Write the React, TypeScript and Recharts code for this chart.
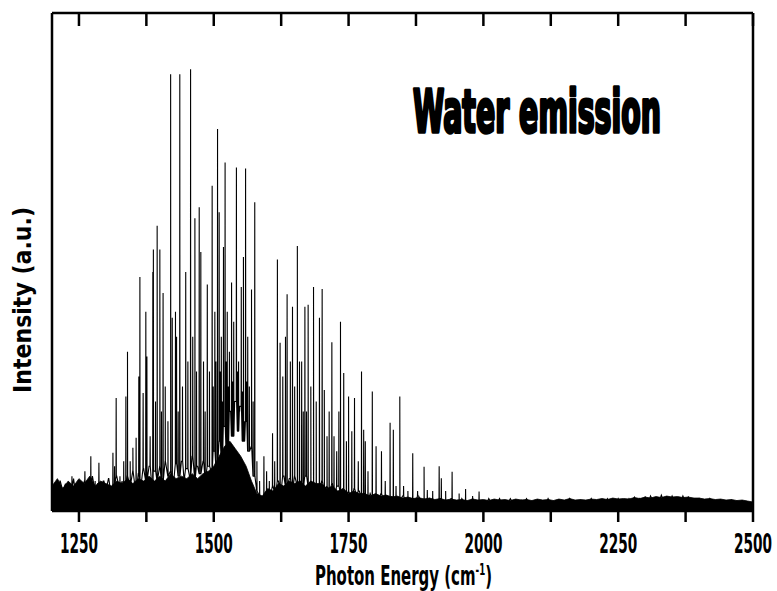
import React from 'react';
import { ComposedChart, Line, Area, XAxis, YAxis } from 'recharts';

// x ticks every 125 cm-1, labels only on multiples of 250
const tickValues = [1250, 1375, 1500, 1625, 1750, 1875, 2000, 2125, 2250, 2375, 2500];

// baseline noise, one value every 5 cm-1 from 1200 to 2500
const baselineStart = 1200;
const baselineStep = 5;
const baseline = [
    3.5, 5, 2, 6, 4, 5.5, 3, 4.5, 6.5, 2.5, 5, 4, 6, 3, 5, 7, 4, 5.5, 3.5, 6, // 1200
    4, 6.5, 3, 5, 7, 4.5, 6, 3.5, 7, 5, 8, 4, 7.5, 5, 8.5, 6, 9, 5, 8, 6, // 1300
    9, 6, 10, 7, 8, 5, 9.5, 7, 10, 6, 8.5, 7, 11, 6, 9, 7.5, 10, 6.5, 9, 8, // 1400
    12, 9, 14, 10, 17, 12, 20, 15, 22, 16, 21, 14, 18, 12, 13, 7, 4, 3, 2.5, 3, // 1500
    4, 3, 5, 3.5, 6, 4, 7, 5, 6.5, 4, 7, 5, 6, 4.5, 7, 5, 6, 4, 5.5, 4, // 1600
    6, 4, 5, 3.5, 5.5, 3, 5, 3.5, 4.5, 3, 4, 2.5, 4.5, 3, 4, 2.5, 3.5, 2, 3.5, 2.5, // 1700
    3, 2, 3.5, 2, 3, 1.5, 3, 2, 2.5, 1.5, 3, 2, 2.5, 1.5, 2.5, 2, 3, 1.5, 2.5, 2, // 1800
    2.5, 1.5, 2, 1.5, 2.5, 1.2, 2, 1.5, 2.5, 1.5, 2, 1.2, 2.5, 1.5, 2, 1.5, 2.5, 1.5, 2, 1.5, // 1900
    2, 1.2, 2.5, 1.5, 2, 1.5, 2.5, 1.2, 2, 1.5, 2.5, 1.5, 2, 1.2, 2.2, 1.5, 2.5, 1.5, 2, 1.2, // 2000
    2.2, 1.5, 2, 1.2, 2.5, 1.5, 2, 1.5, 2.2, 1.2, 2, 1.5, 2.5, 1.2, 2, 1.5, 2.2, 1.5, 2, 1.2, // 2100
    2.5, 1.5, 2, 1.2, 2.2, 1.5, 2.5, 1.5, 2, 1.2, 2.5, 1.5, 2.2, 1.5, 2.5, 1.5, 2.8, 1.5, 2.5, 1.8, // 2200
    2.8, 1.5, 3, 1.8, 2.5, 1.5, 3.2, 1.8, 2.8, 1.5, 3, 1.8, 2.5, 1.5, 3, 1.8, 2.8, 1.5, 2.5, 1.5, // 2300
    2.5, 1.5, 2.2, 1.2, 2.5, 1.5, 2, 1.2, 2.2, 1.5, 2, 1.2, 2.2, 1.2, 2, 1, 2, 1.2, 1.8, 1, // 2400
    1.5,
];

// top of the dark noise floor, one value every 10 cm-1 from 1200 to 2500
const floorStart = 1200;
const floorStep = 10;
const floorTop = [
    5, 6.5, 4.5, 6, 5, 6.5, 5.5, 7, 5, 6, // 1200
    5.5, 5, 6, 5.5, 6.5, 5.5, 6.5, 6, 7, 6, // 1300
    7, 6, 7.5, 6.5, 7, 6.5, 7.5, 6.5, 7.5, 8, // 1400
    9, 11, 13, 14, 12.5, 11, 9, 6, 3.5, 3, // 1500
    4.5, 4, 5.5, 5, 6, 5.5, 6, 5, 6, 5.5, // 1600
    5.5, 4.5, 5, 4, 4.5, 3.5, 4, 3.5, 3.5, 3, // 1700
    3.5, 3, 3.2, 2.8, 3, 2.6, 2.8, 2.5, 2.7, 2.4, // 1800
    2.6, 2.3, 2.5, 2.2, 2.4, 2.2, 2.3, 2.1, 2.4, 2.2, // 1900
    2.3, 2.1, 2.4, 2.2, 2.3, 2.1, 2.4, 2.2, 2.3, 2.1, // 2000
    2.4, 2.2, 2.3, 2.1, 2.4, 2.2, 2.5, 2.2, 2.3, 2.2, // 2100
    2.4, 2.3, 2.5, 2.3, 2.6, 2.4, 2.5, 2.4, 2.7, 2.5, // 2200
    2.8, 2.6, 2.9, 2.7, 3.0, 2.8, 2.9, 2.7, 2.8, 2.6, // 2300
    2.6, 2.4, 2.5, 2.3, 2.4, 2.2, 2.3, 2.1, 2.2, 2.0, // 2400
    1.8,
];

// emission lines: position (cm-1) and peak intensity (a.u., frame top = 100)
const peakEnergies = [
    1215, 1228, 1237, 1250, 1261, 1272, 1280, 1287, 1296, 1305,
    1313, 1316, 1319, 1326, 1333, 1337, 1340, 1345, 1350, 1356,
    1361, 1363, 1369, 1374, 1376, 1382, 1387, 1388, 1392, 1395,
    1400, 1403, 1406, 1410, 1415, 1420, 1423, 1429, 1431, 1434,
    1437, 1442, 1448, 1452, 1457, 1461, 1465, 1468, 1473, 1476,
    1481, 1484, 1488, 1492, 1497, 1499, 1502, 1504, 1507, 1510,
    1512, 1514, 1516, 1518, 1521, 1523, 1525, 1527, 1529, 1531,
    1533, 1535, 1537, 1539, 1542, 1544, 1546, 1548, 1551, 1553,
    1555, 1557, 1559, 1561, 1563, 1566, 1570, 1573, 1576, 1580,
    1585, 1593, 1598, 1603, 1609, 1613, 1618, 1623, 1628, 1633,
    1636, 1642, 1646, 1650, 1655, 1659, 1663, 1666, 1669, 1672,
    1675, 1680, 1685, 1690, 1696, 1701, 1705, 1710, 1714, 1719,
    1723, 1728, 1732, 1735, 1741, 1746, 1750, 1756, 1761, 1768,
    1774, 1778, 1781, 1786, 1794, 1801, 1811, 1818, 1827, 1833,
    1838, 1845, 1852, 1860, 1869, 1878, 1890, 1896, 1906, 1918,
    1922, 1930, 1942, 1955, 1967, 1980, 1992,
];
const peakHeights = [
    6, 5, 7, 5, 8, 11, 6, 9.7, 6, 6.5,
    11.7, 9, 22.7, 7, 10, 23, 32, 10, 12.7, 14.7,
    27, 47, 23.7, 40, 31, 15, 48, 52.5, 22, 57.3,
    52.5, 20, 43.8, 25, 18, 87.7, 38.8, 40, 35, 20,
    87.7, 25, 48, 30, 88.7, 35, 58.8, 28, 61, 52,
    30, 20, 45.5, 28, 65.3, 25, 40, 30, 76.7, 60,
    28, 35, 22, 53, 70, 30, 40, 25, 32, 20,
    45.9, 26, 38, 22, 69, 28, 30, 20, 45, 24,
    51, 18, 68.8, 26, 35, 25, 44.5, 22, 62, 10,
    6, 11, 8, 6, 15.6, 10, 50.5, 33.8, 27, 35,
    43.5, 30, 41, 25, 53.2, 30, 30, 20, 41, 20,
    41.4, 25, 45, 22, 38.8, 44.6, 24.3, 15, 20, 33.9,
    15, 12, 20, 38, 27.7, 14, 23, 16, 22.7, 10,
    28, 16.3, 14, 8, 24, 13, 12, 6, 17.7, 16.3,
    5, 23, 5, 4, 11.6, 4, 8.9, 4.2, 4, 9,
    6.6, 4, 7.9, 3.5, 4.4, 3, 3.9,
];

type Pt = { e: number; y: number };

const spectrum: Pt[] = (() => {
    const pts: Pt[] = baseline.map((v, i) => ({ e: baselineStart + i * baselineStep, y: v }));
    peakEnergies.forEach((e, i) => {
        const foot = baseline[Math.round((e - baselineStart) / baselineStep)];
        pts.push({ e: e - 0.3, y: foot });
        pts.push({ e, y: peakHeights[i] });
        pts.push({ e: e + 0.3, y: foot });
    });
    return pts.sort((a, b) => a.e - b.e);
})();

const noiseFloor = floorTop.map((v, i) => ({ e: floorStart + i * floorStep, top: v }));

const FONT = "'Liberation Sans Narrow', 'DejaVu Sans Condensed', sans-serif";

function BottomTick(props: any) {
    const { x, y, payload } = props;
    if (payload.value % 250 !== 0) return <g />;
    return (
        <text
            x={x}
            y={y + 29}
            textAnchor="middle"
            fontFamily={FONT}
            fontWeight="bold"
            fontSize={26}
            textLength={38}
            lengthAdjust="spacingAndGlyphs"
            fill="#000"
        >
            {payload.value}
        </text>
    );
}

export default function App() {
    return (
        <div style={{ position: 'absolute', left: 0, top: 0, width: 777, height: 591, background: '#fff' }}>
            <ComposedChart
                width={777}
                height={591}
                data={spectrum}
                margin={{ top: 13, right: 23, left: 0, bottom: 0 }}
            >
                <XAxis
                    xAxisId="bottom"
                    dataKey="e"
                    type="number"
                    domain={[1200, 2500]}
                    ticks={tickValues}
                    height={80}
                    tickSize={11}
                    tickMargin={2}
                    tick={<BottomTick />}
                    axisLine={{ stroke: '#000', strokeWidth: 2.5 }}
                    tickLine={{ stroke: '#000', strokeWidth: 2.5 }}
                    allowDataOverflow
                />
                <XAxis
                    xAxisId="top"
                    orientation="top"
                    dataKey="e"
                    type="number"
                    domain={[1200, 2500]}
                    ticks={tickValues}
                    height={1}
                    mirror
                    tickSize={13}
                    tick={() => <g />}
                    axisLine={{ stroke: '#000', strokeWidth: 2.5 }}
                    tickLine={{ stroke: '#000', strokeWidth: 2.5 }}
                    allowDataOverflow
                />
                <YAxis
                    yAxisId="left"
                    type="number"
                    domain={[0, 100]}
                    width={52}
                    tick={false}
                    tickLine={false}
                    axisLine={{ stroke: '#000', strokeWidth: 2.5 }}
                    allowDataOverflow
                />
                <YAxis
                    yAxisId="right"
                    orientation="right"
                    type="number"
                    domain={[0, 100]}
                    width={1}
                    tick={false}
                    tickLine={false}
                    axisLine={{ stroke: '#000', strokeWidth: 2.5 }}
                    allowDataOverflow
                />
                {/* dark noise floor, drawn on the top/right pair so the frame axes are used */}
                <Area
                    xAxisId="top"
                    yAxisId="right"
                    data={noiseFloor}
                    type="linear"
                    dataKey="top"
                    stroke="#000"
                    strokeWidth={0.8}
                    fill="#000"
                    fillOpacity={1}
                    activeDot={false}
                    isAnimationActive={false}
                />
                <Line
                    xAxisId="bottom"
                    yAxisId="left"
                    type="linear"
                    dataKey="y"
                    stroke="#000"
                    strokeWidth={1.1}
                    dot={false}
                    activeDot={false}
                    isAnimationActive={false}
                />
            </ComposedChart>
            <svg
                width={777}
                height={591}
                style={{ position: 'absolute', left: 0, top: 0, pointerEvents: 'none' }}
            >
                <text
                    x={413}
                    y={132}
                    fontFamily={FONT}
                    fontWeight="bold"
                    fontSize={58}
                    textLength={248}
                    lengthAdjust="spacingAndGlyphs"
                    stroke="#000"
                    strokeWidth={3.5}
                    strokeLinejoin="round"
                    fill="#000"
                >
                    Water emission
                </text>
                <text
                    x={315}
                    y={585}
                    fontFamily={FONT}
                    fontWeight="bold"
                    fontSize={26}
                    textLength={177}
                    lengthAdjust="spacingAndGlyphs"
                    fill="#000"
                >
                    Photon Energy (cm<tspan dy={-10} fontSize={15}>-1</tspan><tspan dy={10}>)</tspan>
                </text>
                <text
                    x={31}
                    y={300}
                    transform="rotate(-90, 31, 300)"
                    textAnchor="middle"
                    fontFamily={FONT}
                    fontWeight="bold"
                    fontSize={25}
                    textLength={186}
                    lengthAdjust="spacingAndGlyphs"
                    fill="#000"
                >
                    Intensity (a.u.)
                </text>
            </svg>
        </div>
    );
}
